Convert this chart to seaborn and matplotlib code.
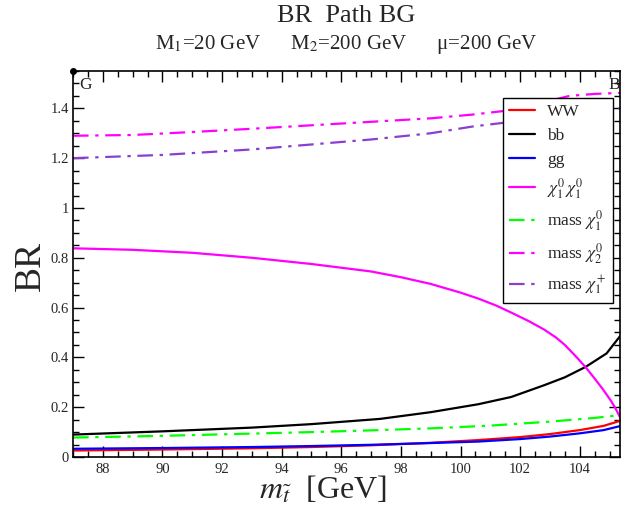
import numpy as np
import pandas as pd
import matplotlib
matplotlib.use("Agg")
import matplotlib.pyplot as plt
from matplotlib.ticker import MultipleLocator, FuncFormatter
import seaborn as sns

# ---------------- data ----------------
title = "BR  Path BG"
subtitle = r"M$_1$=20 GeV      M$_2$=200 GeV      μ=200 GeV"

x_ww = [87, 90, 93, 95, 97, 99, 100.6, 102, 103, 104, 104.8, 105.35]
ww   = [0.026, 0.030, 0.035, 0.040, 0.047, 0.057, 0.068, 0.080, 0.092, 0.108, 0.125, 0.145]

x_bb = [87, 90, 93, 95, 97.3, 99, 100.6, 101.7, 102.8, 103.5, 104.2, 104.9, 105.35]
bb   = [0.090, 0.103, 0.118, 0.132, 0.153, 0.180, 0.212, 0.241, 0.288, 0.320, 0.362, 0.416, 0.485]

x_gg = [87, 90, 93, 95, 97, 99, 100.6, 102, 103, 104, 104.8, 105.35]
gg   = [0.033, 0.036, 0.040, 0.044, 0.049, 0.056, 0.062, 0.072, 0.082, 0.095, 0.108, 0.124]

x_chi = [87, 89, 91, 93, 95, 97, 98, 99, 100, 100.6, 101.2, 101.7, 102.3, 102.8, 103.2,
         103.5, 103.9, 104.2, 104.5, 104.8, 105.05, 105.2, 105.35]
chi   = [0.838, 0.832, 0.820, 0.800, 0.775, 0.745, 0.722, 0.695, 0.660, 0.636, 0.608, 0.580,
         0.545, 0.512, 0.480, 0.450, 0.400, 0.360, 0.315, 0.268, 0.225, 0.195, 0.160]

x_m1 = [87, 90, 93, 95, 97, 99, 101, 103, 104.5, 105.35]
m1   = [0.078, 0.085, 0.094, 0.100, 0.107, 0.115, 0.126, 0.142, 0.157, 0.168]

x_m2 = [87, 89, 91, 93, 95, 97, 99, 100.4, 101.5, 102.5, 103.65, 104.5, 105.35]
m2   = [1.290, 1.293, 1.305, 1.318, 1.332, 1.346, 1.360, 1.375, 1.390, 1.415, 1.450, 1.458, 1.462]

x_mc = [87, 90, 93, 95, 97, 99, 100.4, 102, 103.5, 105.35]
mc   = [1.200, 1.213, 1.235, 1.255, 1.275, 1.300, 1.327, 1.350, 1.375, 1.400]

series = [
    ("WW", x_ww, ww, "#ff0000", "-"),
    ("bb", x_bb, bb, "#000000", "-"),
    ("gg", x_gg, gg, "#0000ff", "-"),
    (r"$\chi_1^0\,\chi_1^0$", x_chi, chi, "#ff00ff", "-"),
    (r"mass $\chi_1^0$", x_m1, m1, "#00ff00", "dd"),
    (r"mass $\chi_2^0$", x_m2, m2, "#ff00ff", "dd"),
    (r"mass $\chi_1^+$", x_mc, mc, "#8a3fd0", "dd"),
]

x_ticks_major = [88, 90, 92, 94, 96, 98, 100, 102, 104]
xlim = (87, 105.35)
ylim = (0, 1.55)

# ---------------- style ----------------
sns.set_style("ticks")
plt.rcParams["font.family"] = ["Liberation Serif", "DejaVu Serif"]
plt.rcParams["mathtext.fontset"] = "stix"

fig = plt.figure(figsize=(6.21, 5.09), dpi=100)
ax = fig.add_axes([73 / 621, 1 - 457 / 509, (620 - 73) / 621, (457 - 71) / 509])

for label, xs, ys, color, ls in series:
    df = pd.DataFrame({"x": xs, "y": ys})
    line_ls = "-" if ls == "-" else (0, (7, 3, 1.5, 3))
    sns.lineplot(data=df, x="x", y="y", ax=ax, color=color, lw=1.6,
                 linestyle=line_ls, label=label, sort=False)

ax.set_xlim(*xlim)
ax.set_ylim(*ylim)
ax.set_xlabel("")
ax.set_ylabel("")

ax.set_xticks(x_ticks_major)
ax.xaxis.set_minor_locator(MultipleLocator(0.5))
ax.yaxis.set_major_locator(MultipleLocator(0.2))
ax.yaxis.set_minor_locator(MultipleLocator(0.05))
ax.yaxis.set_major_formatter(FuncFormatter(lambda v, p: f"{v:g}"))
ax.tick_params(which="both", direction="in", top=True, right=True, labelsize=10.5,
               width=1, color="black")
ax.tick_params(which="major", length=8, pad=4)
ax.tick_params(which="minor", length=4.5)
ax.tick_params(axis="y", which="major", pad=3)
for s in ax.spines.values():
    s.set_linewidth(1.2)
    s.set_color("black")

# corner dot & path labels
ax.plot([0], [1], "o", color="black", ms=4, transform=ax.transAxes, clip_on=False)
ax.text(0.012, 0.985, "G", transform=ax.transAxes, ha="left", va="top", fontsize=12.5)
ax.text(0.979, 0.985, "B", transform=ax.transAxes, ha="left", va="top", fontsize=12.5,
        clip_on=False)

leg = ax.legend(loc="upper right", bbox_to_anchor=(0.987, 0.930), borderaxespad=0,
                fontsize=12.5, frameon=True, fancybox=False, edgecolor="black",
                framealpha=1, handlelength=1.5, handletextpad=0.7, labelspacing=0.45,
                borderpad=0.35)
leg.get_frame().set_linewidth(1.0)
leg.set_zorder(10)
for t in leg.get_lines():
    t.set_linewidth(1.6)

fig.text(0.558, 0.968, title, ha="center", va="center", fontsize=19)
fig.text(0.558, 0.912, subtitle, ha="center", va="center", fontsize=15)
fig.text(0.049, 0.477, "BR", rotation=90, ha="center", va="center", fontsize=27)
fig.text(0.52, 0.037, r"$m_{\tilde{t}}$  [GeV]", ha="center", va="center", fontsize=23)

fig.savefig("out.png", dpi=100)
